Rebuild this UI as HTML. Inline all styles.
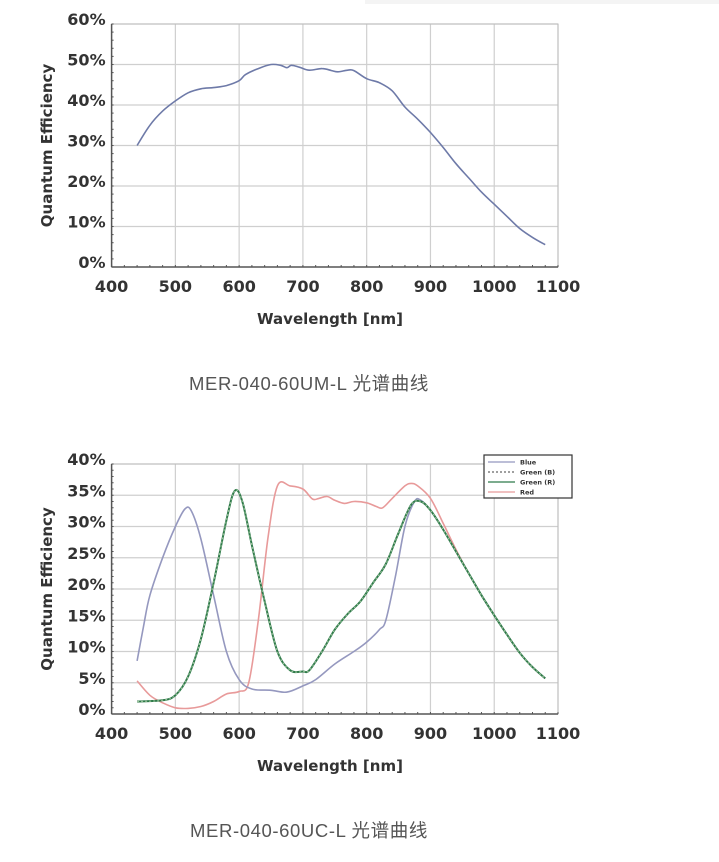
<!DOCTYPE html>
<html><head><meta charset="utf-8"><style>
html,body{margin:0;padding:0;background:#fff;width:719px;height:862px;overflow:hidden}
svg{display:block}
</style></head><body>
<svg id="s" width="719" height="862" xmlns="http://www.w3.org/2000/svg" font-family="'DejaVu Sans', 'Liberation Sans', sans-serif">
<rect x="365" y="0" width="354" height="4" fill="#f4f4f4"/>
<text x="309" y="390" font-size="18.5" letter-spacing="0.6" fill="#555" text-anchor="middle" font-family="'Liberation Sans','Noto Sans CJK SC',sans-serif">MER-040-60UM-L 光谱曲线</text>
<text x="309" y="837" font-size="18.5" letter-spacing="0.6" fill="#555" text-anchor="middle" font-family="'Liberation Sans','Noto Sans CJK SC',sans-serif">MER-040-60UC-L 光谱曲线</text>
</svg>
<script>
(function(){
const S=document.getElementById('s');const NS='http://www.w3.org/2000/svg';
function el(t,a,txt){const e=document.createElementNS(NS,t);for(const k in a)e.setAttribute(k,a[k]);if(txt!=null)e.textContent=txt;S.appendChild(e);return e;}
function smooth(p){let d='M'+p[0][0].toFixed(1)+','+p[0][1].toFixed(1);for(let i=0;i<p.length-1;i++){const p0=p[i-1]||p[i],p1=p[i],p2=p[i+1],p3=p[i+2]||p2;const c1=[p1[0]+(p2[0]-p0[0])/6,p1[1]+(p2[1]-p0[1])/6],c2=[p2[0]-(p3[0]-p1[0])/6,p2[1]-(p3[1]-p1[1])/6];d+=` C${c1[0].toFixed(1)},${c1[1].toFixed(1)} ${c2[0].toFixed(1)},${c2[1].toFixed(1)} ${p2[0].toFixed(1)},${p2[1].toFixed(1)}`;}return d;}
function chart(o){
 const L=111.6,R=558,T=o.top,B=o.bot;
 const X=v=>L+(v-400)/700*(R-L), Y=v=>B-(v/o.max)*(B-T);
 for(let n=500;n<=1100;n+=100)el('line',{x1:X(n),x2:X(n),y1:T,y2:B,stroke:'#cfcfcf','stroke-width':1.2});
 for(let p=o.step;p<=o.max;p+=o.step)el('line',{x1:L,x2:R,y1:Y(p),y2:Y(p),stroke:'#cfcfcf','stroke-width':1.2});
 el('rect',{x:L,y:T,width:R-L,height:B-T,fill:'none',stroke:'#bbb','stroke-width':1});
 el('line',{x1:L,x2:R,y1:B,y2:B,stroke:'#555','stroke-width':1.5});
 el('line',{x1:L,x2:L,y1:T,y2:B,stroke:'#555','stroke-width':1.5});
 for(let n=400;n<=1100;n+=20)el('line',{x1:X(n),x2:X(n),y1:B,y2:B-2,stroke:'#555','stroke-width':1});
 for(let p=0;p<=o.max;p+=o.step/5)el('line',{x1:L,x2:L+2,y1:Y(p),y2:Y(p),stroke:'#555','stroke-width':1});
 for(let n=400;n<=1100;n+=100)el('text',{x:X(n),y:B+25,'font-size':16,'font-weight':'bold',fill:'#333','text-anchor':'middle'},n);
 for(let p=0;p<=o.max;p+=o.step)el('text',{x:L-6,y:Y(p)+1,'font-size':16,'font-weight':'bold',fill:'#333','text-anchor':'end'},p+'%');
 el('text',{x:330,y:B+57,'font-size':15,'font-weight':'bold',fill:'#333','text-anchor':'middle'},'Wavelength [nm]');
 el('text',{x:0,y:0,'font-size':15,'font-weight':'bold',fill:'#333','text-anchor':'middle',transform:`translate(52,${(T+B)/2}) rotate(-90)`},'Quantum Efficiency');
 for(const s of o.series){el('path',{d:smooth(s.d.map(([a,b])=>[X(a),Y(b)])),fill:'none',stroke:s.c,'stroke-width':s.w||1.6,'stroke-linejoin':'round','stroke-dasharray':s.dash||'none'});}
}
const mono=[[440,30],[460,35],[480,38.5],[500,41],[520,43],[540,44],[560,44.3],[580,44.8],[600,46],[610,47.5],[630,49],[650,50],[665,49.8],[675,49.2],[682,49.8],[695,49.3],[710,48.6],[730,49],[745,48.5],[755,48.2],[770,48.6],[780,48.5],[800,46.5],[820,45.5],[840,43.5],[860,39.5],[880,36.5],[900,33.2],[920,29.5],[940,25.5],[960,22],[980,18.5],[1000,15.5],[1020,12.5],[1040,9.5],[1060,7.3],[1080,5.5]];
chart({top:24,bot:267,max:60,step:10,series:[{d:mono,c:'#6e7aa8'}]});
const tail=[[900,32.6],[920,29.5],[940,26],[960,22.5],[980,19],[1000,15.8],[1020,12.7],[1040,9.8],[1060,7.5],[1080,5.7]];
const blue=[[440,8.5],[450,14],[460,19],[480,25],[500,30],[515,32.8],[525,32.5],[540,28],[560,19],[580,10],[600,5.5],[620,4],[650,3.8],[675,3.5],[700,4.5],[720,5.5],[750,8],[780,10],[800,11.5],[820,13.5],[830,15],[845,22],[860,30],[875,34],[885,34.2]].concat(tail);
const green=[[440,2],[480,2.2],[500,3],[520,6],[540,12],[560,21],[580,31],[593,35.7],[605,34],[620,27],[640,18],[660,10],[680,7],[700,6.8],[710,7],[730,10],[750,13.5],[770,16],[790,18],[810,21],[830,24],[850,29],[870,33.5],[885,34]].concat(tail);
const red=[[440,5.3],[460,3],[480,1.8],[500,1],[520,0.9],[540,1.2],[560,2],[580,3.2],[600,3.6],[615,5],[630,15],[645,28],[660,36.5],[680,36.5],[700,36],[715,34.4],[725,34.5],[738,34.8],[750,34.2],[765,33.7],[780,34],[800,33.8],[815,33.2],[825,33],[840,34.5],[860,36.5],[870,36.9],[880,36.5],[900,34.5],[920,30.5],[940,26.3]].concat(tail.slice(3));
chart({top:464,bot:714,max:40,step:5,series:[{d:red,c:'#e89a9a'},{d:blue,c:'#9598bf'},{d:green,c:'#2f7a4a',w:2},{d:green,c:'#9fc79f',w:1,dash:'2 2'}]});
el('rect',{x:484,y:455,width:88,height:43,fill:'#fff',stroke:'#333','stroke-width':1.2});
const lg=[['Blue','#9598bf',''],['Green (B)','#666','2 2'],['Green (R)','#2f7a4a',''],['Red','#e89a9a','']];
lg.forEach((l,i)=>{const y=462+i*10;el('line',{x1:488,x2:515,y1:y,y2:y,stroke:l[1],'stroke-width':1.2,'stroke-dasharray':l[2]||'none'});el('text',{x:520,y:y+2.5,'font-size':6.5,'font-weight':'bold',fill:'#333'},l[0]);});
})();
</script>
</body></html>
